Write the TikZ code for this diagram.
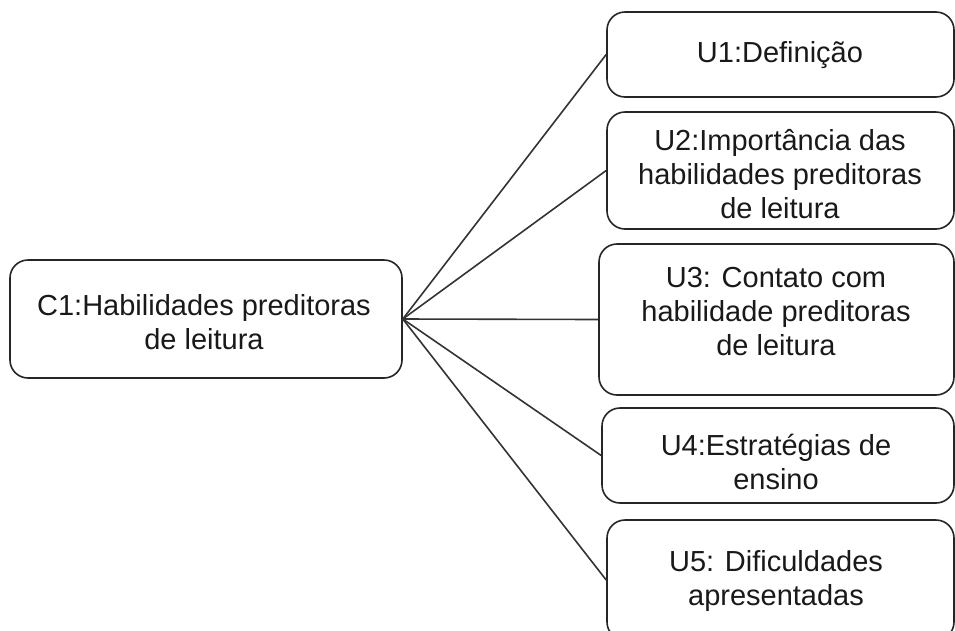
\documentclass[tikz,border=0pt]{standalone}
\usepackage{fontspec}
\setmainfont{Liberation Sans}
\begin{document}
\begin{tikzpicture}[x=1pt,y=-1pt,
  box/.style={draw=black!85, line width=1.6pt, rounded corners=18pt, rectangle, inner sep=0pt},
  txt/.style={align=center, font=\fontsize{29}{34}\selectfont, text=black!90, inner sep=0pt},
  link/.style={draw=black!80, line width=1.6pt}]
\clip (0,0) rectangle (955,630);
\node[box, minimum width=392pt, minimum height=118pt] (c1) at (206,319) {};
\node[txt] (c1t) at (204,322) {C1:Habilidades preditoras\\de leitura};
\node[box, minimum width=347pt, minimum height=85pt] (u1) at (780.5,54.5) {};
\node[txt] (u1t) at (780,55) {U1:Definição};
\node[box, minimum width=347pt, minimum height=117pt] (u2) at (780.5,170.5) {};
\node[txt] (u2t) at (780,174) {U2:Importância das\\habilidades preditoras\\de leitura};
\node[box, minimum width=355pt, minimum height=151pt] (u3) at (776.5,319.5) {};
\node[txt] (u3t) at (776,312) {U3: Contato com\\habilidade preditoras\\de leitura};
\node[box, minimum width=352pt, minimum height=95pt] (u4) at (778,455.5) {};
\node[txt] (u4t) at (776,462) {U4:Estratégias de\\ensino};
\node[box, minimum width=347pt, minimum height=120pt] (u5) at (780.5,580) {};
\node[txt] (u5t) at (776,581) {U5: Dificuldades\\apresentadas};
\foreach \n in {u1,u2,u3,u4,u5} \draw[link] (c1.east) -- (\n.west);
\end{tikzpicture}
\end{document}
